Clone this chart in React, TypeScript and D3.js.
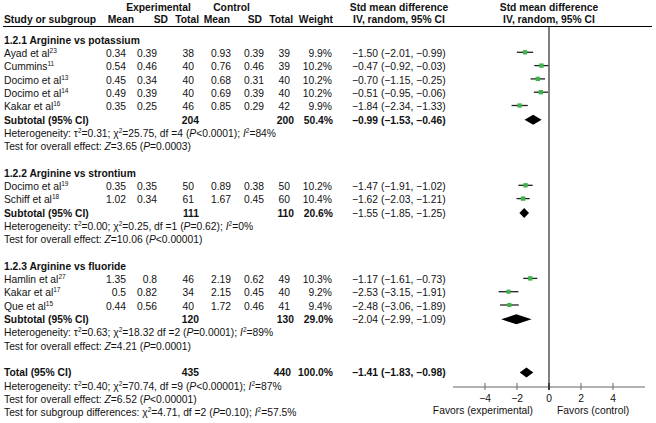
import React from 'react';
import * as d3 from 'd3';

// ---- data ----
const groupTitles = ['1.2.1 Arginine vs potassium', '1.2.2 Arginine vs strontium', '1.2.3 Arginine vs fluoride'];

const studyNames = ['Ayad et al', 'Cummins', 'Docimo et al', 'Docimo et al', 'Kakar et al', 'Docimo et al', 'Schiff et al', 'Hamlin et al', 'Kakar et al', 'Que et al'];
const studyRefs = ['23', '11', '13', '14', '16', '19', '18', '27', '17', '15'];
const studyGroup = [0, 0, 0, 0, 0, 1, 1, 2, 2, 2];
const expMean = [0.34, 0.54, 0.45, 0.49, 0.35, 0.35, 1.02, 1.35, 0.5, 0.44];
const expSD = [0.39, 0.46, 0.34, 0.39, 0.25, 0.35, 0.34, 0.8, 0.82, 0.56];
const expN = [38, 40, 40, 40, 46, 50, 61, 46, 34, 40];
const ctlMean = [0.93, 0.76, 0.68, 0.69, 0.85, 0.89, 1.67, 2.19, 2.15, 1.72];
const ctlSD = [0.39, 0.46, 0.31, 0.39, 0.29, 0.38, 0.45, 0.62, 0.45, 0.46];
const ctlN = [39, 39, 40, 40, 42, 50, 60, 49, 40, 41];
const weights = [9.9, 10.2, 10.2, 10.2, 9.9, 10.2, 10.4, 10.3, 9.2, 9.4];
const smd = [-1.5, -0.47, -0.7, -0.51, -1.84, -1.47, -1.62, -1.17, -2.53, -2.48];
const ciLow = [-2.01, -0.92, -1.15, -0.95, -2.34, -1.91, -2.03, -1.61, -3.15, -3.06];
const ciHigh = [-0.99, -0.03, -0.25, -0.06, -1.33, -1.02, -1.21, -0.73, -1.91, -1.89];

const subExpN = [204, 111, 120];
const subCtlN = [200, 110, 130];
const subWeight = [50.4, 20.6, 29.0];
const subSmd = [-0.99, -1.55, -2.04];
const subLow = [-1.53, -1.85, -2.99];
const subHigh = [-0.46, -1.25, -1.09];
const subBoldEffect = [true, false, false];
const subHetero = [
  'Heterogeneity: τ^2=0.31; χ^2=25.75, df =4 (*P*<0.0001); *I*^2=84%',
  'Heterogeneity: τ^2=0.00; χ^2=0.25, df =1 (*P*=0.62); *I*^2=0%',
  'Heterogeneity: τ^2=0.63; χ^2=18.32 df =2 (*P*=0.0001); *I*^2=89%',
];
const subTest = [
  'Test for overall effect: *Z*=3.65 (*P*=0.0003)',
  'Test for overall effect: *Z*=10.06 (*P*<0.00001)',
  'Test for overall effect: *Z*=4.21 (*P*=0.0001)',
];

const totalExpN = 435;
const totalCtlN = 440;
const totalWeight = 100.0;
const totalSmd = -1.41;
const totalLow = -1.83;
const totalHigh = -0.98;
const totalNotes = [
  'Heterogeneity: τ^2=0.40; χ^2=70.74, df =9 (*P*<0.00001); *I*^2=87%',
  'Test for overall effect: *Z*=6.52 (*P*<0.00001)',
  'Test for subgroup differences:  χ^2=4.71, df =2 (*P*=0.10); *I*^2=57.5%',
];

const axisTicks = [-4, -2, 0, 2, 4];

// ---- layout ----
const W = 656;
const H = 423;
const FONT = '"Liberation Sans", Arial, Helvetica, sans-serif';
const FS = 10.3;
const GREEN = '#3cb44b';

const rowTop = 40;
const rowStep = 13.3;
const rowY = (k: number) => rowTop + rowStep * k;

const x = d3.scaleLinear().domain([-6, 6]).range([453, 645]);
const axisY = 387;
const sqSize = d3.scaleSqrt().domain([0, 10.4]).range([0, 4.4]);

const col = { m1: 126, sd1: 157, n1: 194, m2: 231, sd2: 264, n2: 290, w: 332, eff: 352 };
const head = { m1: 134, sd1: 168, n1: 199, m2: 230, sd2: 262, n2: 293, w: 333 };
const boldCol = { n1: 199, n2: 294 };

const fmt = (v: number) => v.toFixed(2).replace('-', '\u2212');
const effectText = (m: number, l: number, h: number) => `${fmt(m)} (${fmt(l)}, ${fmt(h)})`;

// little markup: *x* italic, ^c superscript
function rich(s: string) {
  const out: React.ReactNode[] = [];
  const re = /\*([^*]+)\*|\^(\S)/g;
  let last = 0;
  let m: RegExpExecArray | null;
  let raised = false;
  let i = 0;
  const push = (txt: string, props: any) => {
    const dy = raised ? 4 : 0;
    raised = false;
    out.push(<tspan key={i++} dy={dy || undefined} {...props}>{txt}</tspan>);
  };
  while ((m = re.exec(s))) {
    if (m.index > last) push(s.slice(last, m.index), {});
    if (m[1]) push(m[1], { fontStyle: 'italic' });
    else {
      const dy = raised ? 0 : -4;
      out.push(<tspan key={i++} dy={dy} fontSize={6.5}>{m[2]}</tspan>);
      raised = true;
    }
    last = re.lastIndex;
  }
  if (last < s.length) push(s.slice(last), {});
  return out;
}

type Row = { k: number; kind: string; i?: number };

function buildRows(): Row[] {
  const rows: Row[] = [];
  let k = 0;
  groupTitles.forEach((_, g) => {
    rows.push({ k: k++, kind: 'group', i: g });
    studyGroup.forEach((sg, s) => {
      if (sg === g) rows.push({ k: k++, kind: 'study', i: s });
    });
    rows.push({ k: k++, kind: 'subtotal', i: g });
    rows.push({ k: k++, kind: 'het', i: g });
    rows.push({ k: k++, kind: 'test', i: g });
    k++;
  });
  rows.push({ k: k++, kind: 'total' });
  totalNotes.forEach((_, n) => rows.push({ k: k++, kind: 'note', i: n }));
  return rows;
}

const Diamond = ({ m, l, h, cy }: { m: number; l: number; h: number; cy: number }) => {
  const hh = 5;
  const pts = [[x(l), cy], [x(m), cy - hh], [x(h), cy], [x(m), cy + hh]];
  return <path d={d3.line()(pts as [number, number][]) + 'Z'} fill="#000" />;
};

export default function App() {
  const rows = buildRows();
  const base = (k: number) => rowY(k) + 3.7;
  const mark = (k: number) => rowY(k) - 1;

  return (
    <svg width={W} height={H} style={{ position: 'absolute', left: 0, top: 0, background: '#fff' }}
      fontFamily={FONT} fontSize={FS} fill="#111">
      {/* headers */}
      <g fontWeight="bold">
        <text x={158.5} y={10.5} textAnchor="middle">Experimental</text>
        <text x={231.5} y={10.5} textAnchor="middle">Control</text>
        <text x={399} y={10.5} textAnchor="middle">Std mean difference</text>
        <text x={x(0)} y={10.5} textAnchor="middle">Std mean difference</text>
        <text x={4} y={22.5}>Study or subgroup</text>
        <text x={head.m1} y={22.5} textAnchor="end">Mean</text>
        <text x={head.sd1} y={22.5} textAnchor="end">SD</text>
        <text x={head.n1} y={22.5} textAnchor="end">Total</text>
        <text x={head.m2} y={22.5} textAnchor="end">Mean</text>
        <text x={head.sd2} y={22.5} textAnchor="end">SD</text>
        <text x={head.n2} y={22.5} textAnchor="end">Total</text>
        <text x={head.w} y={22.5} textAnchor="end">Weight</text>
        <text x={399} y={22.5} textAnchor="middle">IV, random, 95% CI</text>
        <text x={x(0)} y={22.5} textAnchor="middle">IV, random, 95% CI</text>
      </g>
      <line x1={3} x2={652} y1={26.5} y2={26.5} stroke="#000" strokeWidth={1} />

      {/* zero line and axis */}
      <line x1={x(0)} x2={x(0)} y1={26.5} y2={axisY + 3} stroke="#000" strokeWidth={1} />
      <line x1={x.range()[0]} x2={x.range()[1]} y1={axisY} y2={axisY} stroke="#666" strokeWidth={1} />
      {axisTicks.map(t => (
        <g key={t}>
          <line x1={x(t)} x2={x(t)} y1={axisY - 4} y2={axisY + 3} stroke={t === 0 ? '#000' : '#666'} />
          <text x={x(t)} y={402} textAnchor="middle">{fmtTick(t)}</text>
        </g>
      ))}
      <text x={x(0) - 16} y={414} textAnchor="end">Favors (experimental)</text>
      <text x={x(0) + 8} y={414}>Favors (control)</text>

      {rows.map(r => {
        const y = base(r.k);
        if (r.kind === 'group') {
          return <text key={r.k} x={4} y={y} fontWeight="bold">{groupTitles[r.i!]}</text>;
        }
        if (r.kind === 'study') {
          const s = r.i!;
          const cy = mark(r.k);
          const sz = sqSize(weights[s]);
          return (
            <g key={r.k}>
              <text x={4} y={y}>{studyNames[s]}<tspan dy={-4} fontSize={6.5}>{studyRefs[s]}</tspan></text>
              <text x={col.m1} y={y} textAnchor="end">{String(expMean[s])}</text>
              <text x={col.sd1} y={y} textAnchor="end">{String(expSD[s])}</text>
              <text x={col.n1} y={y} textAnchor="end">{expN[s]}</text>
              <text x={col.m2} y={y} textAnchor="end">{String(ctlMean[s])}</text>
              <text x={col.sd2} y={y} textAnchor="end">{String(ctlSD[s])}</text>
              <text x={col.n2} y={y} textAnchor="end">{ctlN[s]}</text>
              <text x={col.w} y={y} textAnchor="end">{weights[s].toFixed(1)}%</text>
              <text x={col.eff} y={y}>{effectText(smd[s], ciLow[s], ciHigh[s])}</text>
              <line x1={x(ciLow[s])} x2={x(ciHigh[s])} y1={cy} y2={cy} stroke="#222" strokeWidth={1.3} />
              <rect x={x(smd[s]) - sz / 2} y={cy - sz / 2} width={sz} height={sz} fill={GREEN} />
            </g>
          );
        }
        if (r.kind === 'subtotal') {
          const g = r.i!;
          return (
            <g key={r.k}>
              <text x={4} y={y} fontWeight="bold">Subtotal (95% CI)</text>
              <text x={boldCol.n1} y={y} textAnchor="end" fontWeight="bold">{subExpN[g]}</text>
              <text x={boldCol.n2} y={y} textAnchor="end" fontWeight="bold">{subCtlN[g]}</text>
              <text x={col.w + 1} y={y} textAnchor="end" fontWeight="bold">{subWeight[g].toFixed(1)}%</text>
              <text x={col.eff} y={y} fontWeight={subBoldEffect[g] ? 'bold' : 'normal'}>
                {effectText(subSmd[g], subLow[g], subHigh[g])}
              </text>
              <Diamond m={subSmd[g]} l={subLow[g]} h={subHigh[g]} cy={rowY(r.k)} />
            </g>
          );
        }
        if (r.kind === 'het') return <text key={r.k} x={4} y={y}>{rich(subHetero[r.i!])}</text>;
        if (r.kind === 'test') return <text key={r.k} x={4} y={y}>{rich(subTest[r.i!])}</text>;
        if (r.kind === 'total') {
          return (
            <g key={r.k}>
              <text x={4} y={y} fontWeight="bold">Total (95% CI)</text>
              <text x={boldCol.n1} y={y} textAnchor="end" fontWeight="bold">{totalExpN}</text>
              <text x={boldCol.n2 - 3} y={y} textAnchor="end" fontWeight="bold">{totalCtlN}</text>
              <text x={col.w + 1} y={y} textAnchor="end" fontWeight="bold">{totalWeight.toFixed(1)}%</text>
              <text x={col.eff} y={y} fontWeight="bold">{effectText(totalSmd, totalLow, totalHigh)}</text>
              <Diamond m={totalSmd} l={totalLow} h={totalHigh} cy={rowY(r.k)} />
            </g>
          );
        }
        return <text key={r.k} x={4} y={y}>{rich(totalNotes[r.i!])}</text>;
      })}
    </svg>
  );
}

function fmtTick(t: number) {
  return t < 0 ? '\u2212' + Math.abs(t) : String(t);
}
